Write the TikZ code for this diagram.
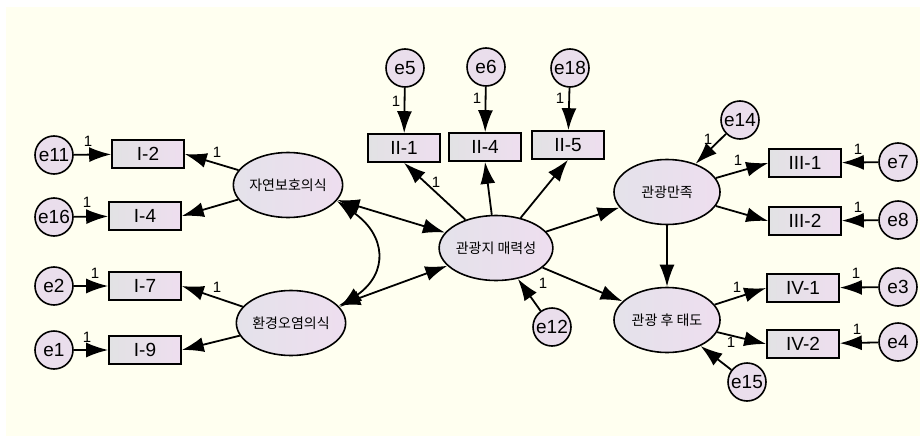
\documentclass[tikz,border=0pt]{standalone}
\usepackage{fontspec}
\setmainfont{Liberation Sans}
\newfontfamily\kr{Noto Sans CJK KR}
\usetikzlibrary{arrows.meta,shapes.geometric}
\definecolor{cream}{RGB}{255,255,240}
\definecolor{lavR}{RGB}{238,222,239}
\definecolor{lavL}{RGB}{228,226,234}
\definecolor{boxL}{RGB}{226,226,228}
\definecolor{circ}{RGB}{234,222,236}
\tikzset{
  conn/.style={line width=1.8pt,-{Latex[length=22pt,width=15pt]}},
  dbl/.style={line width=1.8pt,{Latex[length=22pt,width=15pt]}-{Latex[length=22pt,width=15pt]}},
  obs/.style={draw,line width=1.6pt,rectangle,minimum width=72pt,minimum height=28pt,inner sep=0pt,left color=boxL,right color=lavR,font=\fontsize{19}{19}\selectfont},
  lat/.style={draw,line width=1.6pt,ellipse,minimum width=106pt,minimum height=65pt,inner sep=0pt,left color=lavL,right color=lavR,font=\kr\fontsize{14}{14}\selectfont},
  err/.style={draw,line width=1.6pt,circle,minimum size=38pt,inner sep=0pt,fill=circ,font=\fontsize{19}{19}\selectfont},
  one/.style={font=\fontsize{15}{15}\selectfont,inner sep=0pt}
}
\begin{document}
\begin{tikzpicture}[x=1pt,y=-1pt]
\useasboundingbox (0,0) rectangle (920,436);
\fill[white] (0,0) rectangle (920,436);
\fill[cream] (6,7) rectangle (920,436);
% latent variables
\node[lat] (nat) at (288,185) {자연보호의식};
\node[lat] (env) at (291,323) {환경오염의식};
\node[lat] (attr) at (496,248) {관광지 매력성};
\node[lat] (sat) at (667,192) {관광만족};
\node[lat] (att) at (667,320) {관광 후 태도};
% observed
\node[obs] (I2) at (148,154) {I-2};
\node[obs] (I4) at (145,216) {I-4};
\node[obs] (I7) at (145,286) {I-7};
\node[obs] (I9) at (145,350) {I-9};
\node[obs] (II1) at (404,148) {II-1};
\node[obs] (II4) at (485,147) {II-4};
\node[obs] (II5) at (568,145) {II-5};
\node[obs] (III1) at (805,163) {III-1};
\node[obs] (III2) at (805,221) {III-2};
\node[obs] (IV1) at (803,288) {IV-1};
\node[obs] (IV2) at (803,344) {IV-2};
% errors
\node[err] (e11) at (54,155) {e11};
\node[err] (e16) at (54,217) {e16};
\node[err] (e2) at (54,286) {e2};
\node[err] (e1) at (54,350) {e1};
\node[err] (e5) at (405,68) {e5};
\node[err] (e6) at (486,67) {e6};
\node[err] (e18) at (570,68) {e18};
\node[err] (e12) at (552,327) {e12};
\node[err] (e14) at (740,120) {e14};
\node[err] (e15) at (747,382) {e15};
\node[err] (e7) at (898,162) {e7};
\node[err] (e8) at (898,220) {e8};
\node[err] (e3) at (898,287) {e3};
\node[err] (e4) at (898,342) {e4};
% error arrows
\draw[conn] (e11) -- (I2);
\draw[conn] (e16) -- (I4);
\draw[conn] (e2) -- (I7);
\draw[conn] (e1) -- (I9);
\draw[conn] (e5) -- (II1);
\draw[conn] (e6) -- (II4);
\draw[conn] (e18) -- (II5);
\draw[conn] (e7) -- (III1);
\draw[conn] (e8) -- (III2);
\draw[conn] (e3) -- (IV1);
\draw[conn] (e4) -- (IV2);
\draw[conn] (e12) -- (attr);
\draw[conn] (e14) -- (sat);
\draw[conn] (e15) -- (att);
% loadings
\draw[conn] (nat) -- (I2.east);
\draw[conn] (nat) -- (I4.east);
\draw[conn] (env) -- (I7.east);
\draw[conn] (env) -- (I9.east);
\draw[conn] (attr) -- (II1.south);
\draw[conn] (attr) -- (II4.south);
\draw[conn] (attr) -- (II5.south);
\draw[conn] (sat) -- (III1.west);
\draw[conn] (sat) -- (III2.west);
\draw[conn] (att) -- (IV1.west);
\draw[conn] (att) -- (IV2.west);
% structural
\draw[conn] (attr) -- (sat);
\draw[conn] (attr) -- (att);
\draw[conn] (sat) -- (att);
\draw[dbl] (nat) -- (attr);
\draw[dbl] (env) -- (attr);
\draw[dbl] (nat.-18) .. controls +(35:60) and +(-35:60) .. (env.18);
% labels
\node[one] (l1) at (88,141) {1};
\node[one] (l2) at (87,202) {1};
\node[one] (l3) at (95,273) {1};
\node[one] (l4) at (87,337) {1};
\node[one] (l5) at (217,152) {1};
\node[one] (l6) at (217,287) {1};
\node[one] (l7) at (396,101) {1};
\node[one] (l8) at (477,98) {1};
\node[one] (l9) at (560,98) {1};
\node[one] (l10) at (436,182) {1};
\node[one] (l11) at (543,283) {1};
\node[one] (l12) at (708,139) {1};
\node[one] (l13) at (738,160) {1};
\node[one] (l14) at (858,149) {1};
\node[one] (l15) at (858,207) {1};
\node[one] (l16) at (737,287) {1};
\node[one] (l17) at (856,273) {1};
\node[one] (l18) at (857,329) {1};
\node[one] (l19) at (731,342) {1};
\end{tikzpicture}
\end{document}
